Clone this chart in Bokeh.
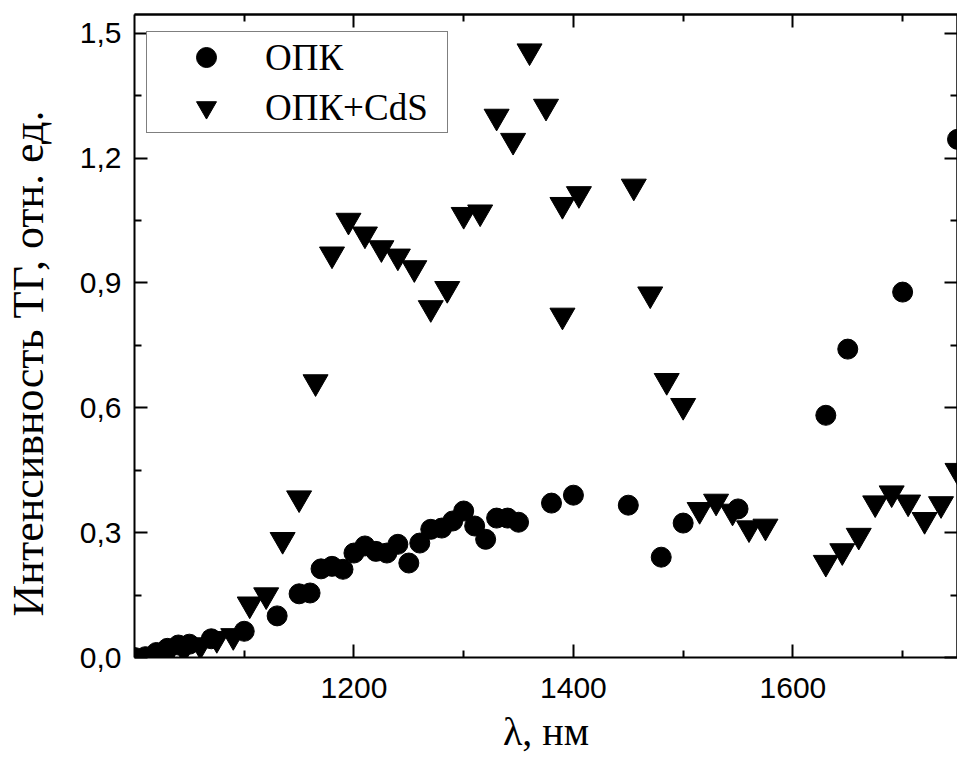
from bokeh.plotting import figure
from bokeh.models import (Range1d, LinearAxis, FixedTicker, CustomJSTickFormatter,
                          Legend, LegendItem)
from bokeh.embed import file_html
from bokeh.resources import INLINE

# ОПК (circles)
opk_x = [1000, 1010, 1020, 1030, 1040, 1050, 1070, 1100, 1130, 1150, 1160,
         1170, 1180, 1190, 1200, 1210, 1220, 1230, 1240, 1250, 1260, 1270,
         1280, 1290, 1300, 1310, 1320, 1330, 1340, 1350, 1380, 1400, 1450,
         1480, 1500, 1550, 1630, 1650, 1700, 1750]
opk_y = [0.0, 0.002, 0.012, 0.022, 0.030, 0.032, 0.045, 0.063, 0.100, 0.153, 0.155,
         0.213, 0.219, 0.212, 0.251, 0.268, 0.255, 0.251, 0.272, 0.227, 0.275, 0.308,
         0.311, 0.328, 0.352, 0.316, 0.284, 0.335, 0.335, 0.325, 0.371, 0.390, 0.366,
         0.241, 0.323, 0.357, 0.582, 0.741, 0.878, 1.245]

# ОПК+CdS (down triangles)
cds_x = [1000, 1015, 1030, 1045, 1060, 1075, 1090, 1105, 1120, 1135, 1150, 1165,
         1180, 1195, 1210, 1225, 1240, 1255, 1270, 1285, 1300, 1315, 1330, 1345,
         1360, 1375, 1390, 1390, 1405, 1455, 1470, 1485, 1500, 1515, 1530, 1545,
         1560, 1575, 1630, 1645, 1660, 1675, 1690, 1705, 1720, 1735, 1750]
cds_y = [0.0, 0.003, 0.008, 0.020, 0.030, 0.045, 0.052, 0.128, 0.150, 0.283, 0.383, 0.662,
         0.969, 1.050, 1.017, 0.984, 0.964, 0.936, 0.840, 0.886, 1.064, 1.070, 1.300, 1.242,
         1.457, 1.324, 1.088, 0.822, 1.114, 1.132, 0.873, 0.665, 0.605, 0.355, 0.375, 0.351,
         0.311, 0.315, 0.228, 0.256, 0.293, 0.371, 0.395, 0.373, 0.331, 0.369, 0.449]

x_major = [1200, 1400, 1600]
x_minor = [1100, 1300, 1500, 1700]
y_major = [0.0, 0.3, 0.6, 0.9, 1.2, 1.5]
y_minor = [0.15, 0.45, 0.75, 1.05, 1.35]

series_labels = ["ОПК", "ОПК+CdS"]
x_title = "λ, нм"
y_title = "Интенсивность ТГ, отн. ед." + "\u00a0" * 5

p = figure(width=957, height=762, output_backend="svg", toolbar_location=None,
           x_range=Range1d(1000, 1750), y_range=Range1d(0, 1.545),
           min_border_left=133, min_border_right=0, min_border_top=14,
           min_border_bottom=105)
p.title.visible = False
p.xgrid.visible = False
p.ygrid.visible = False
p.outline_line_color = None
p.background_fill_color = "white"
p.border_fill_color = "white"


def base_axis(ax):
    ax.axis_line_width = 2
    ax.axis_line_color = "black"
    ax.major_tick_out = 0
    ax.minor_tick_out = 0
    ax.major_tick_line_width = 2
    ax.minor_tick_line_width = 2
    ax.major_tick_line_color = "black"
    ax.minor_tick_line_color = "black"


def labelled_axis(ax, majors, minors):
    base_axis(ax)
    ax.ticker = FixedTicker(ticks=majors, minor_ticks=minors)
    ax.major_tick_in = 13
    ax.minor_tick_in = 7
    ax.major_label_text_font = "Liberation Sans"
    ax.major_label_text_font_size = "30px"
    ax.major_label_text_color = "black"
    ax.axis_label_text_font = "Liberation Serif"
    ax.axis_label_text_font_style = "normal"
    ax.axis_label_text_color = "black"


def bare_axes(side, majors, minors):
    # mirror axes without labels: long ticks at major positions, short at minor
    for ticks, length in ((majors, 13), (minors, 7)):
        ax = LinearAxis(ticker=FixedTicker(ticks=[], minor_ticks=ticks))
        base_axis(ax)
        ax.major_tick_in = 0
        ax.minor_tick_in = length
        ax.major_label_standoff = 0
        ax.axis_label_standoff = 0
        p.add_layout(ax, side)


bx = p.xaxis[0]
labelled_axis(bx, x_major, x_minor)
bx.major_label_standoff = 20
bx.axis_label = x_title
bx.axis_label_text_font_size = "40px"
bx.axis_label_standoff = 8

ly = p.yaxis[0]
labelled_axis(ly, y_major, y_minor)
ly.formatter = CustomJSTickFormatter(code="return tick.toFixed(1).replace('.', ',');")
ly.major_label_standoff = 13
ly.axis_label = y_title
ly.axis_label_text_font_size = "44px"
ly.axis_label_standoff = 24

bare_axes("above", x_major, x_minor)
bare_axes("right", y_major, y_minor)

r1 = p.scatter(opk_x, opk_y, marker="circle", size=20, color="black")
r2 = p.scatter(cds_x, cds_y, marker="inverted_triangle", size=25, color="black")

legend = Legend(items=[LegendItem(label=series_labels[0], renderers=[r1]),
                       LegendItem(label=series_labels[1], renderers=[r2])],
                location=(12, 524), margin=0, padding=0, spacing=0,
                glyph_height=50, glyph_width=118, label_height=50, label_standoff=0,
                label_width=182,
                label_text_font="Liberation Serif", label_text_font_size="37px",
                label_text_color="black",
                border_line_color="black", border_line_width=1,
                background_fill_color="white", background_fill_alpha=1)
p.add_layout(legend)

open("out.html", "w").write(file_html(p, INLINE))
